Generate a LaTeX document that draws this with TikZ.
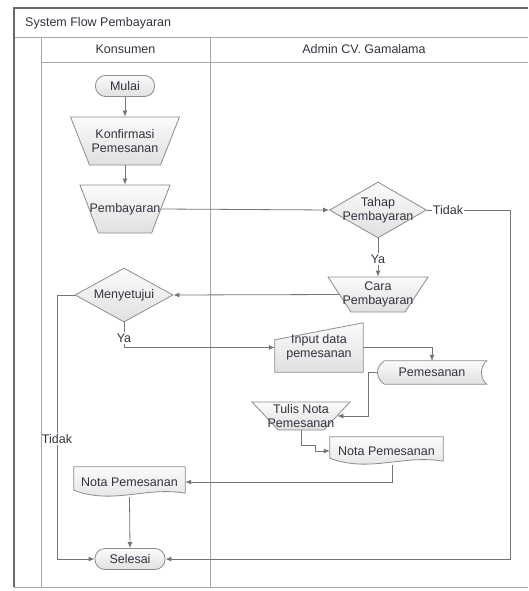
\documentclass[tikz,border=0pt]{standalone}
\usepackage{fontspec}
\setmainfont{Liberation Sans}
\usetikzlibrary{shapes.geometric,arrows.meta,calc}
\pgfdeclarelayer{background}
\pgfdeclarelayer{canvas}
\pgfsetlayers{canvas,background,main}
\definecolor{lineC}{HTML}{757575}
\definecolor{frameC}{HTML}{A8A8A8}
\definecolor{frameD}{HTML}{6A6A6A}
\definecolor{txtC}{HTML}{333340}
\definecolor{shapeTop}{HTML}{FBFBFB}
\definecolor{shapeBot}{HTML}{E0E0E0}
\definecolor{borderC}{HTML}{8C8C8C}
\begin{document}
\begin{tikzpicture}[x=1pt,y=-1pt,
  font=\fontsize{12.5}{14}\selectfont, text=txtC,
  shapebase/.style={draw=borderC, line width=0.8pt, top color=shapeTop, bottom color=shapeBot},
  terminal/.style={shapebase, rounded corners=10pt, inner sep=0pt, minimum width=#1, minimum height=21pt},
  manop/.style n args={3}{shapebase, trapezium, shape border rotate=180, trapezium stretches=true,
      trapezium left angle=#3, trapezium right angle=#3, minimum width=#1, minimum height=#2, inner sep=1pt},
  decision/.style n args={2}{shapebase, diamond, minimum width=#1, minimum height=#2, inner sep=1pt},
  plainbox/.style n args={2}{inner sep=0pt, minimum width=#1, minimum height=#2, align=center},
  conn/.style={draw=lineC, line width=0.8pt},
  arr/.style={conn, -{Latex[length=6pt,width=5pt]}},
  lbl/.style={inner sep=1pt, align=center},
  frame/.style={draw=frameC, line width=0.9pt},
  txt/.style={inner sep=0pt, align=center}
]
\useasboundingbox (0,0) rectangle (528,591);
\begin{pgfonlayer}{canvas}
\fill[white] (0,0) rectangle (528,591);
\end{pgfonlayer}

% ---------- frame ----------
\draw[frame] (14,37) -- (528,37);
\draw[frame] (41,62) -- (528,62);
\draw[frame] (41,37) -- (41,587);
\draw[frame] (210,37) -- (210,587);
\draw[frame] (14,587) -- (528,587);
\draw[draw=frameD, line width=1.3pt] (14,587) -- (14,8) -- (528,8);
\node[txt, anchor=west] (title) at (25,23) {System Flow Pembayaran};
\node[txt] (lane1) at (125.5,49.5) {Konsumen};
\node[txt] (lane2) at (364,49.5) {Admin CV. Gamalama};

% ---------- nodes ----------
\node[terminal=59pt] (mulai) at (125,86) {Mulai};
\node[manop={109pt}{48pt}{75}, label={[txt]center:Konfirmasi\\Pemesanan}] (konf) at (125,141) {};
\node[manop={90pt}{48pt}{71}, label={[txt]center:Pembayaran}] (pemb) at (125,209) {};
\node[decision={97pt}{56pt}, label={[txt]center:Tahap\\Pembayaran}] (tahap) at (378,210) {};
\node[manop={100pt}{35pt}{67}, label={[txt]center:Cara\\Pembayaran}] (cara) at (378,294.5) {};
\node[decision={98pt}{54pt}, label={[txt]center:Menyetujui}] (meny) at (124,295) {};
\node[plainbox={88pt}{49pt}] (input) at (319,347.5) {Input data\\pemesanan};
\node[plainbox={109pt}{23pt}] (pemes) at (432,372.5) {Pemesanan};
\node[manop={98pt}{28pt}{60}, label={[txt]center:Tulis Nota\\Pemesanan}] (tulis) at (301,416) {};
\node[plainbox={113pt}{28pt}] (notaA) at (386.5,451) {Nota Pemesanan};
\node[plainbox={111pt}{30pt}] (notaK) at (129.5,482) {Nota Pemesanan};
\node[terminal=70pt] (selesai) at (130,559) {Selesai};

% labels on connectors
\node[lbl] (tidak1) at (448,210) {Tidak};
\node[lbl] (ya1) at (378,259) {Ya};
\node[lbl] (ya2) at (124,338) {Ya};
\node[lbl] (tidak2) at (57,439) {Tidak};
\coordinate (cR) at (510,210);

% ---------- custom outlines ----------
\begin{pgfonlayer}{background}
% manual input
\path[shapebase] ($(input.north west)+(0,17)$) -- (input.north east) -- (input.south east) -- (input.south west) -- cycle;
% stored data
\path[shapebase] ($(pemes.north west)+(7,0)$) -- (pemes.north east)
   .. controls ($(pemes.north east)+(-7,6)$) and ($(pemes.south east)+(-7,-6)$) .. (pemes.south east)
   -- ($(pemes.south west)+(7,0)$)
   .. controls ($(pemes.south west)+(-2,-6)$) and ($(pemes.north west)+(-2,6)$) .. ($(pemes.north west)+(7,0)$) -- cycle;
% documents
\foreach \n in {notaA,notaK}{
\path[shapebase] (\n.north west) -- (\n.north east) -- ($(\n.south east)+(0,-4)$)
   .. controls ($(\n.south west)!0.65!(\n.south east)+(0,-11)$) and ($(\n.south west)!0.35!(\n.south east)+(0,8)$)
   .. ($(\n.south west)+(0,-7)$) -- cycle;
}
\end{pgfonlayer}

% ---------- connectors ----------
\draw[arr] (mulai.south) -- (konf.north);
\draw[arr] (konf.south) -- (pemb.north);
\draw[arr] (pemb.east) -- (tahap.west);
\draw[conn] (tahap.east) -- (tidak1.west);
\draw[arr] (tidak1.east) -- (cR) |- (selesai.east);
\draw[conn] (tahap.south) -- (ya1.north);
\draw[arr] (ya1.south) -- (cara.north);
\draw[arr] (cara.west) -- (meny.east);
\draw[conn] (meny.south) -- (ya2.north);
\draw[arr] (ya2.south) |- (input.west);
\draw[conn] (meny.west) -| (tidak2.north);
\draw[arr] (tidak2.south) |- (selesai.west);
\draw[arr] (input.east) -| (pemes.north);
\draw[arr] (pemes.west) -- ++(-9,0) |- (tulis.east);
\draw[arr] (tulis.south) |- ++(14,15) |- (notaA.west);
\draw[arr] ([xshift=5.5pt]notaA.south) |- (notaK.east);
\draw[arr] (notaK.south) -- (selesai.north);
\end{tikzpicture}
\end{document}
